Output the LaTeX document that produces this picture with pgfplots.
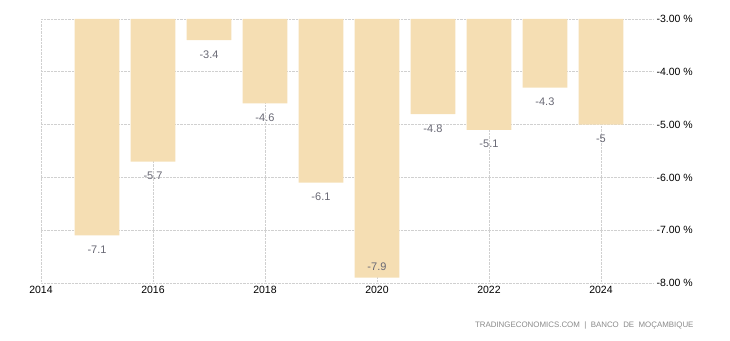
\documentclass[border=0pt]{standalone}
\usepackage{pgfplots}
\pgfplotsset{compat=1.18}
\usepackage{fontspec}
\setmainfont{Liberation Sans}
\definecolor{barc}{HTML}{F5DEB3}
\definecolor{gridc}{HTML}{D0D0D0}
\definecolor{labc}{HTML}{686874}
\definecolor{wmc}{HTML}{8A8A8A}
\begin{document}
\begin{tikzpicture}[x=1pt,y=1pt]
\path[use as bounding box] (0,0) rectangle (730,340);
\begin{axis}[at={(41pt,57pt)}, anchor=south west, scale only axis,
  width=612pt, height=264pt,
  xmin=2014, xmax=2024.93, ymin=-8, ymax=-3,
  xtick={2014,2016,2018,2020,2022,2024}, ytick={-8,-7,-6,-5,-4,-3},
  grid=major, major grid style={gridc, densely dotted, line width=0.7pt},
  axis line style={draw=none}, major tick length=0pt,
  yticklabel pos=right,
  /pgf/number format/assume math mode=true,
  /pgf/number format/1000 sep={},
  xticklabel style={font=\fontsize{10.5}{12}\selectfont, text=black},
  yticklabel style={font=\fontsize{10.5}{12}\selectfont, text=black, anchor=west, xshift=0pt},
  yticklabel={\pgfmathprintnumber[fixed,fixed zerofill,precision=2]{\tick}~\%},
  clip=true,
]
\addplot[ybar, bar width=0.8, bar shift=0pt, fill=barc, draw=none] coordinates {
(2015,-7.1) (2016,-5.7) (2017,-3.4) (2018,-4.6) (2019,-6.1)
(2020,-7.9) (2021,-4.8) (2022,-5.1) (2023,-4.3) (2024,-5.0)};
\addplot[draw=none, mark=none, nodes near coords, point meta=explicit symbolic,
  nodes near coords align={center},
  every node near coord/.append style={font=\fontsize{11}{12}\selectfont, text=labc}]
  table[x=x, y=ly, meta=lab] {
x ly lab
2015 -7.37 -7.1
2016 -5.97 -5.7
2017 -3.67 -3.4
2018 -4.87 -4.6
2019 -6.37 -6.1
2020 -7.69 -7.9
2021 -5.07 -4.8
2022 -5.37 -5.1
2023 -4.57 -4.3
2024 -5.27 -5
};
\end{axis}
\node[anchor=east, font=\fontsize{7.9}{9}\selectfont, text=wmc] at (697,15) {TRADINGECONOMICS.COM \ | \ BANCO \ DE \ MOÇAMBIQUE};
\end{tikzpicture}
\end{document}
